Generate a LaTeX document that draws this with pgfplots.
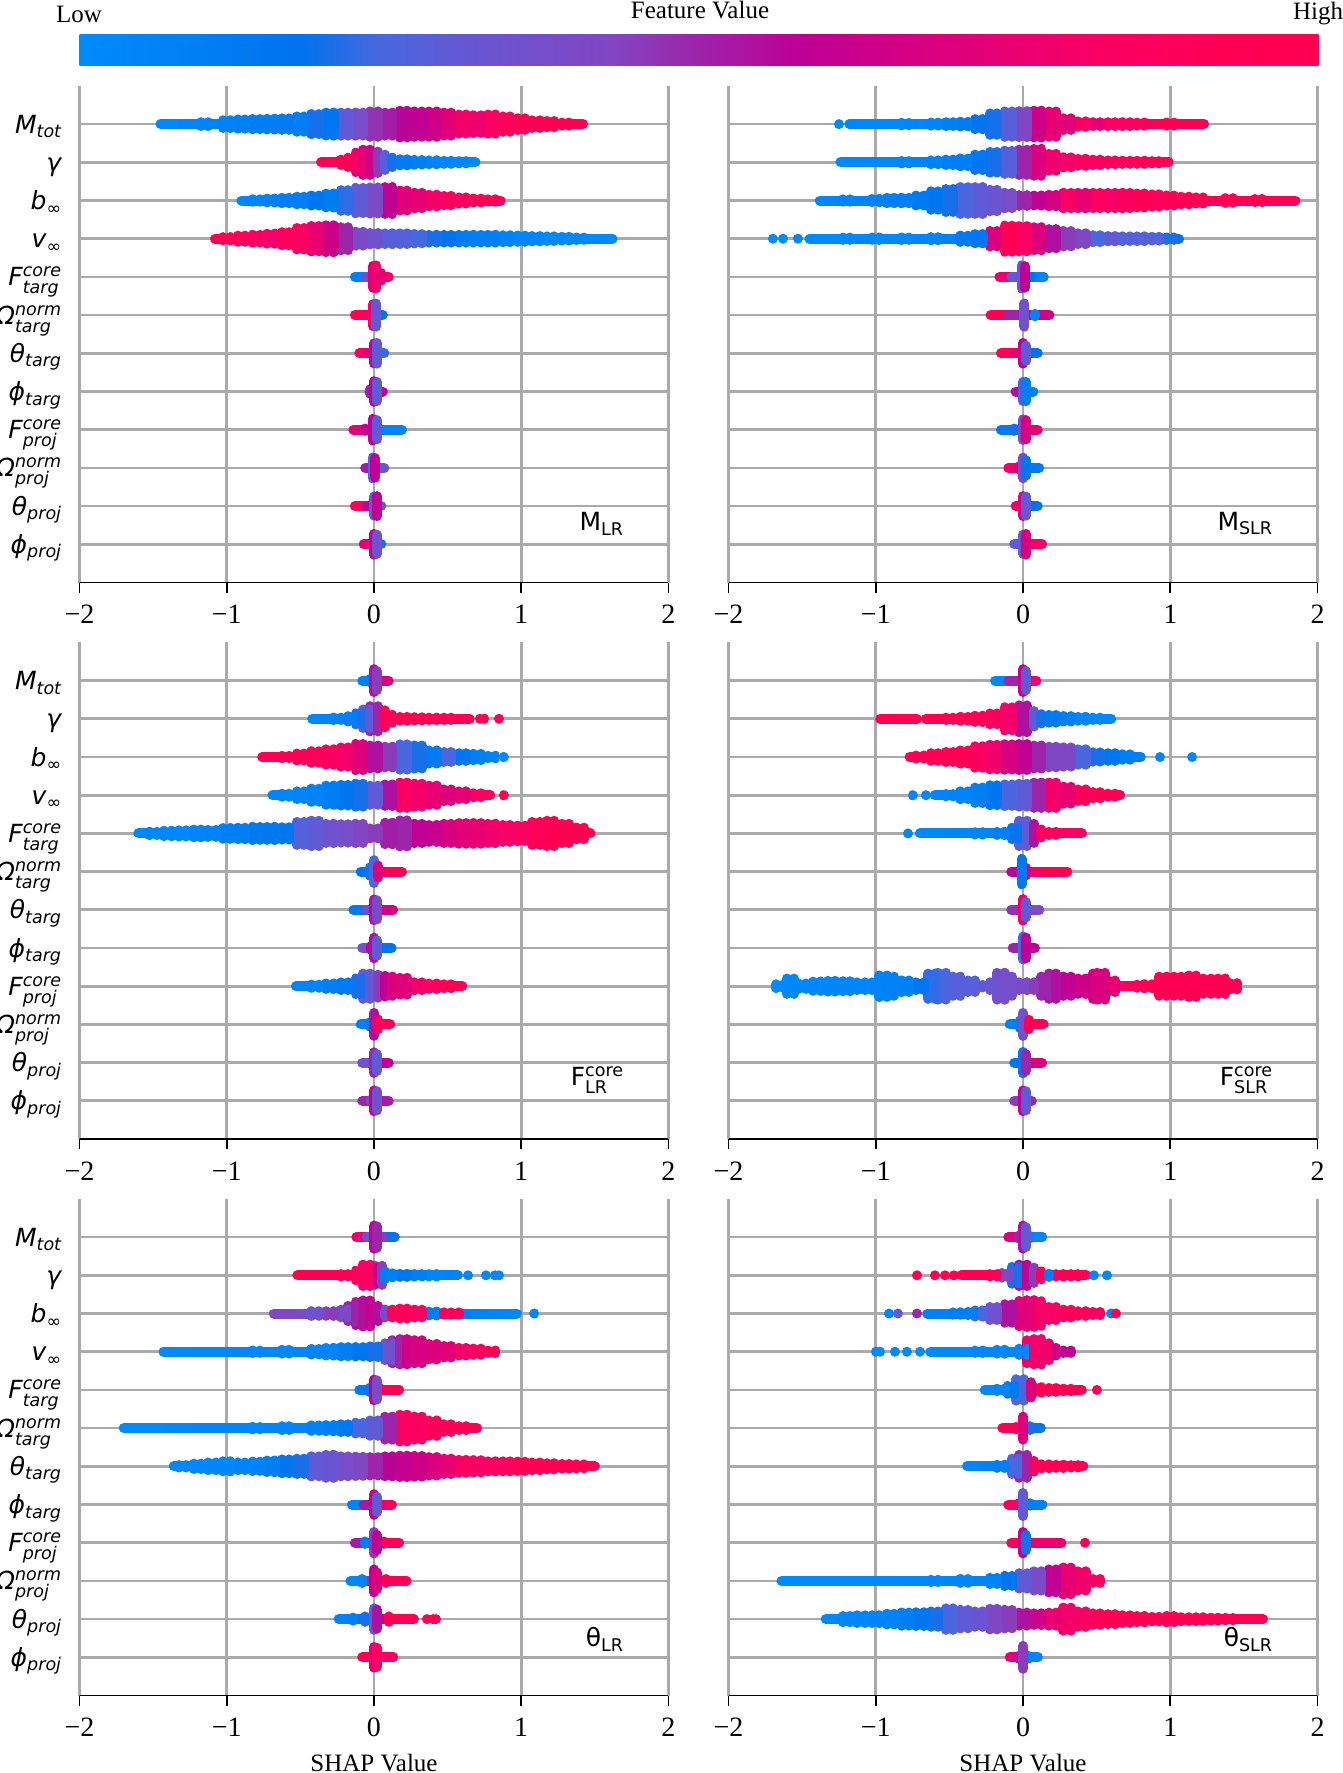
\documentclass[border=0pt]{standalone}
\usepackage{fontspec}
\usepackage{pgfplots}
\pgfplotsset{compat=1.18}
\setmainfont{Liberation Serif}
\newfontfamily\djf{DejaVu Sans}
\newcommand\smf{\fontsize{8.75}{9}\selectfont}
\newcommand\bgf{\djf\fontsize{12.5}{14}\selectfont}
\newcommand\SUB[2]{{\bgf\itshape #1\raisebox{-2.3pt}{\smf #2}}}
\newcommand\SSb[3]{\setbox0\hbox{\smf #2}\setbox2\hbox{\smf #3}#1\rlap{\raisebox{4.5pt}{\smf #2}}\raisebox{-4pt}{\smf #3}\ifdim\wd0>\wd2 \kern\dimexpr\wd0-\wd2\relax\fi}
\newcommand\SSi[3]{{\bgf\itshape\SSb{#1}{#2}{#3}}}
\newcommand\SSU[3]{{\bgf\SSb{#1}{#2}{#3}}}
\newcommand\SUU[2]{{\bgf #1\raisebox{-2.3pt}{\smf #2}}}
\definecolor{c0}{RGB}{0,139,251}\definecolor{c1}{RGB}{0,115,238}\definecolor{c2}{RGB}{70,105,225}
\definecolor{c3}{RGB}{105,85,210}\definecolor{c4}{RGB}{130,70,195}\definecolor{c5}{RGB}{150,45,175}
\definecolor{c6}{RGB}{190,0,150}\definecolor{c7}{RGB}{225,0,120}\definecolor{c8}{RGB}{250,0,100}
\definecolor{c9}{RGB}{255,0,85}\definecolor{c10}{RGB}{255,0,81}
\pgfdeclarehorizontalshading{rb}{100bp}{color(0bp)=(c0);color(25bp)=(c0);color(34bp)=(c1);color(37bp)=(c2);color(41bp)=(c3);color(46.5bp)=(c4);color(49bp)=(c5);color(54bp)=(c6);color(61bp)=(c7);color(66bp)=(c8);color(71bp)=(c9);color(75bp)=(c10);color(100bp)=(c10)}
\definecolor{gl}{RGB}{170,170,170}
\pgfplotsset{
 colormap={rb}{rgb255(0)=(0,139,251);rgb255(18)=(0,115,238);rgb255(24)=(70,105,225);rgb255(32)=(105,85,210);rgb255(43)=(130,70,195);rgb255(48)=(150,45,175);rgb255(59)=(190,0,150);rgb255(72)=(225,0,120);rgb255(83)=(250,0,100);rgb255(93)=(255,0,85);rgb255(100)=(255,0,81)},
 rib/.style={mesh,line width=5pt,line cap=round,point meta=\thisrow{c},forget plot},
 strip/.style={quiver={u=0,v=\thisrow{w}*2+.002,colored=mapped color,every arrow/.append style={-,line width=5pt,line cap=round}},point meta=\thisrow{c},forget plot},
 pan/.style={scale only axis,width=294.5pt,height=248.3pt,anchor=south west,xmin=-2,xmax=2,ymin=-1,ymax=12,colormap name=rb,point meta min=0,point meta max=1,
  xtick={-2,-1,0,1,2},xticklabels={−2,−1,0,1,2},ytick={0,...,11},
  axis lines*=left,y axis line style={draw=none},ytick style={draw=none},x axis line style={-,black,line width=.9pt},
  xtick style={black,line width=.9pt},major tick length=5pt,tick align=outside,
  xmajorgrids,ymajorgrids,grid style={gl,line width=1.35pt},
  xticklabel style={font=\fontsize{14}{16}\selectfont,anchor=base,yshift=-15.5pt},
  yticklabel style={anchor=base east,yshift=-4.5pt,inner sep=0pt,xshift=-4pt},
  xlabel style={font=\fontsize{12.5}{14}\selectfont,at={(axis description cs:0.5,0)},anchor=center,yshift=-33.5pt}},
 lft/.style={yticklabels={\SUB{\char"03D5}{proj},\SUB{\char"03B8}{proj},\SSi{\char"03A9}{norm}{proj},\SSi{F}{core}{proj},\SUB{\char"03D5}{targ},\SUB{\char"03B8}{targ},\SSi{\char"03A9}{norm}{targ},\SSi{F}{core}{targ},\SUB{v}{\char"221E},\SUB{b}{\char"221E},\SUB{\char"03B3}{},\SUB{M}{tot}}},
 rgt/.style={yticklabels={}}
}
\newcommand\sw[2]{%
\addplot[rib] table[row sep=\\,x=x,y expr=#1]{x w c\\#2};%
\addplot[strip,restrict expr to domain={\thisrow{w}}{.025:10}] table[row sep=\\,x expr=\thisrow{x}-.025,y expr=#1-\thisrow{w}-.001]{x w c\\#2};%
\addplot[strip,restrict expr to domain={\thisrow{w}}{.025:10}] table[row sep=\\,x expr=\thisrow{x}+.025,y expr=#1-\thisrow{w}-.001]{x w c\\#2};}
\newcommand\sm[2]{%
\addplot[rib] table[row sep=\\,x=x,y expr=#1]{x w c\\#2};%
\addplot[strip,restrict expr to domain={\thisrow{w}}{.025:10}] table[row sep=\\,x=x,y expr=#1-\thisrow{w}-.001]{x w c\\#2};}
\newcommand\dt[2]{\addplot[strip] table[row sep=\\,x=x,y expr=#1-\thisrow{w}-.001]{x w c\\#2};}
\newcommand\grd{\draw[gl,line width=.8pt](axis cs:-2,-1)--(axis cs:-2,12);\draw[gl,line width=.8pt](axis cs:2,-1)--(axis cs:2,12);}
\begin{document}
\begin{tikzpicture}[x=.5pt,y=-.5pt]
\path[use as bounding box](0,0)rectangle(1343,1773);
\shade[shading=rb](79.5,34)rectangle(1318.5,65);
\node[font=\fontsize{12.5}{14}\selectfont] at (79,14){Low};
\node[font=\fontsize{12.5}{14}\selectfont] at (700,10){Feature Value};
\node[font=\fontsize{12.5}{14}\selectfont] at (1318,14){High};
% ---------- M_LR
\begin{axis}[pan,lft,at={(39.75pt,-291.25pt)}]
\sw{11}{-1.45 0 .02\\-1.3 .02 .03\\-1.15 .05 .05\\-1 .1 .07\\-.9 .12 .08\\-.8 .13 .1\\-.7 .14 .09\\-.6 .15 .12\\-.5 .2 .1\\-.4 .26 .2\\-.3 .3 .15\\-.2 .3 .3\\-.1 .3 .38\\0 .33 .47\\.1 .3 .52\\.2 .35 .58\\.3 .33 .6\\.4 .33 .65\\.5 .3 .72\\.6 .25 .8\\.7 .23 .78\\.8 .25 .85\\.9 .2 .9\\1 .15 .95\\1.1 .1 .97\\1.2 .08 .98\\1.3 .04 .99\\1.42 0 .99\\}
\sw{10}{-.36 0 .98\\-.3 .02 .97\\-.2 .07 .92\\-.15 .12 .85\\-.1 .25 .75\\-.05 .33 .65\\0 .28 .45\\.05 .2 .28\\.1 .12 .2\\.2 .08 .12\\.3 .06 .08\\.4 .05 .05\\.5 .04 .03\\.6 .03 .02\\.69 .02 .01\\}
\sw{9}{-.9 0 .02\\-.8 .03 .05\\-.7 .05 .08\\-.6 .07 .1\\-.5 .1 .1\\-.4 .13 .15\\-.3 .18 .12\\-.2 .27 .22\\-.1 .33 .3\\0 .34 .4\\.1 .35 .6\\.2 .26 .72\\.3 .2 .75\\.4 .15 .8\\.5 .12 .88\\.6 .08 .85\\.7 .05 .92\\.8 .03 .95\\.86 0 .97\\}
\sw{8}{-1.08 0 .98\\-1 .04 .95\\-.9 .08 .9\\-.8 .1 .85\\-.7 .13 .8\\-.6 .17 .9\\-.5 .28 .85\\-.4 .33 .75\\-.3 .35 .65\\-.2 .3 .5\\-.1 .18 .4\\0 .15 .35\\.1 .14 .28\\.2 .14 .27\\.3 .12 .24\\.4 .1 .2\\.5 .1 .17\\.6 .1 .12\\.7 .1 .08\\.8 .1 .1\\.9 .09 .06\\1 .08 .04\\1.1 .07 .03\\1.2 .06 .03\\1.3 .05 .02\\1.4 .03 .02\\1.5 .02 .01\\1.62 0 .01\\}
\sm{7}{-.13 0 .03\\-.05 .02 .1\\-.01 .28 .7\\.015 .3 .8\\.05 .1 .75\\.1 0 .93\\}
\sm{6}{-.13 0 .95\\-.06 .02 .9\\-.01 .28 .8\\.015 .3 .3\\.06 0 .05\\}
\sm{5}{-.1 0 .9\\-.04 .02 .85\\0 .26 .6\\.02 .27 .3\\.07 0 .15\\}
\sm{4}{-.03 .05 .5\\0 .27 .6\\.02 .25 .3\\.06 0 .9\\}
\sm{3}{-.14 0 .9\\-.06 .03 .6\\-.01 .28 .6\\.02 .25 .3\\.08 .02 .05\\.19 0 .02\\}
\sm{2}{-.06 0 .8\\-.01 .27 .25\\.01 .25 .6\\.07 0 .05\\}
\sm{1}{-.13 0 .95\\-.05 .02 .85\\0 .25 .3\\.02 .26 .6\\.05 0 .05\\}
\sm{0}{-.07 0 .9\\0 .27 .6\\.02 .25 .35\\.05 0 .05\\}
\grd
\node[anchor=east] at (axis cs:1.74,.54){\SUU{M}{LR}};
\end{axis}
% ---------- M_SLR
\begin{axis}[pan,rgt,at={(364.25pt,-291.25pt)}]
\dt{11}{-1.25 0 .01\\}
\sw{11}{-1.18 0 .02\\-1 .02 .02\\-.8 .03 .03\\-.6 .04 .05\\-.5 .05 .1\\-.4 .06 .12\\-.3 .13 .18\\-.2 .28 .2\\-.1 .33 .28\\0 .34 .42\\.1 .35 .65\\.2 .33 .75\\.3 .15 .72\\.4 .07 .85\\.5 .05 .75\\.6 .05 .85\\.7 .05 .85\\.8 .04 .88\\1 .04 .95\\1.15 .02 .97\\1.23 0 .98\\}
\sw{10}{-1.24 0 .01\\-1 .02 .02\\-.8 .03 .04\\-.6 .05 .06\\-.5 .07 .1\\-.4 .1 .1\\-.3 .2 .15\\-.2 .27 .2\\-.1 .3 .28\\0 .33 .5\\.1 .35 .7\\.2 .22 .78\\.3 .13 .8\\.4 .09 .85\\.5 .07 .85\\.6 .05 .88\\.7 .04 .9\\.8 .04 .95\\.9 .03 .95\\.99 0 .98\\}
\sw{9}{-1.38 0 .03\\-1.2 .03 .05\\-1 .04 .07\\-.9 .07 .1\\-.8 .07 .1\\-.7 .13 .13\\-.6 .24 .15\\-.5 .3 .2\\-.4 .35 .25\\-.3 .35 .3\\-.2 .28 .33\\-.1 .2 .38\\0 .14 .5\\.1 .13 .6\\.2 .15 .68\\.3 .2 .82\\.4 .2 .75\\.5 .2 .88\\.6 .2 .82\\.7 .2 .88\\.8 .18 .92\\.9 .16 .9\\1 .13 .95\\1.1 .1 .92\\1.2 .08 .95\\1.4 .06 .97\\1.6 .04 .96\\1.75 .02 .98\\1.85 0 .98\\}
\dt{8}{-1.7 0 .01\\-1.63 0 .01\\-1.53 0 .02\\}
\sw{8}{-1.45 .01 .01\\-1.2 .03 .02\\-1 .03 .02\\-.8 .03 .03\\-.6 .04 .04\\-.4 .08 .12\\-.3 .12 .15\\-.2 .2 .7\\-.1 .34 .95\\0 .33 .85\\.1 .3 .7\\.2 .25 .55\\.3 .2 .45\\.4 .14 .42\\.5 .09 .25\\.6 .07 .3\\.7 .06 .27\\.8 .06 .28\\.9 .05 .27\\1 .03 .2\\1.06 .01 .17\\}
\sm{7}{-.16 0 .95\\-.08 .02 .6\\.14 0 .02\\.06 .02 .05\\-.01 .3 .3\\.015 .28 .6\\}
\sm{6}{-.22 0 .97\\-.1 .02 .95\\.08 .03 .05\\.01 .3 .35\\.18 0 .97\\}
\sm{5}{-.15 0 .95\\-.05 .02 .85\\0 .27 .6\\.02 .2 .3\\.1 0 .05\\}
\sm{4}{-.05 0 .8\\0 .25 .3\\.02 .25 .1\\.07 0 .03\\}
\sm{3}{-.15 0 .05\\-.06 .03 .2\\0 .27 .4\\.02 .25 .7\\.1 0 .8\\}
\sm{2}{-.1 0 .9\\-.03 .03 .7\\0 .27 .4\\.02 .2 .15\\.11 0 .1\\}
\sm{1}{-.05 0 .85\\0 .26 .7\\.02 .25 .3\\.1 0 .05\\}
\sm{0}{-.06 0 .3\\0 .25 .3\\.02 .27 .7\\.13 0 .96\\}
\grd
\node[anchor=east] at (axis cs:1.74,.54){\SUU{M}{SLR}};
\end{axis}
% ---------- F_LR
\begin{axis}[pan,lft,at={(39.75pt,-569.5pt)}]
\sm{11}{-.08 0 .03\\-.03 .03 .1\\0 .3 .55\\.02 .25 .45\\.1 0 .95\\}
\sw{10}{-.42 0 .03\\-.35 .02 .04\\-.25 .03 .07\\-.15 .07 .1\\-.1 .14 .2\\-.05 .24 .3\\0 .33 .5\\.05 .22 .9\\.1 .1 .92\\.2 .05 .95\\.3 .04 .95\\.4 .03 .97\\.5 .03 .96\\.6 .02 .97\\.65 0 .97\\}
\dt{10}{.72 0 .97\\.75 0 .98\\.85 0 .98\\}
\sw{9}{-.76 0 .98\\-.7 .01 .97\\-.6 .03 .96\\-.5 .09 .92\\-.4 .15 .9\\-.3 .2 .85\\-.2 .25 .8\\-.1 .34 .7\\0 .3 .55\\.1 .27 .45\\.2 .33 .25\\.3 .3 .2\\.4 .17 .12\\.5 .13 .25\\.6 .1 .15\\.7 .08 .08\\.8 .03 .05\\}
\dt{9}{.88 0 .03\\}
\sw{8}{-.69 0 .03\\-.6 .04 .04\\-.5 .1 .05\\-.4 .17 .06\\-.3 .25 .1\\-.2 .27 .15\\-.1 .3 .2\\0 .25 .3\\.1 .28 .55\\.2 .33 .85\\.3 .3 .8\\.4 .25 .75\\.5 .15 .7\\.6 .1 .75\\.7 .05 .85\\.79 0 .95\\}
\dt{8}{.88 0 .96\\}
\sw{7}{-1.6 0 .02\\-1.5 .04 .03\\-1.4 .07 .02\\-1.3 .08 .03\\-1.2 .1 .05\\-1.1 .09 .06\\-1 .14 .08\\-.9 .15 .1\\-.8 .17 .13\\-.7 .17 .14\\-.6 .16 .16\\-.5 .3 .27\\-.4 .33 .3\\-.3 .25 .35\\-.2 .24 .38\\-.1 .25 .43\\0 .13 .45\\.1 .28 .52\\.2 .34 .5\\.3 .25 .6\\.4 .22 .62\\.5 .25 .68\\.6 .27 .72\\.7 .27 .75\\.8 .25 .78\\.9 .22 .82\\1 .2 .85\\1.1 .3 .92\\1.2 .33 .98\\1.3 .25 .98\\1.4 .15 .99\\1.47 .01 .99\\}
\sm{6}{-.09 0 .15\\-.03 .1 .2\\0 .3 .25\\.03 .15 .7\\.1 .02 .95\\.14 0 .97\\.19 0 .96\\}
\sm{5}{-.14 0 .05\\-.05 .02 .2\\0 .27 .55\\.02 .25 .4\\.13 0 .95\\}
\sm{4}{-.08 0 .1\\-.02 .05 .6\\0 .27 .55\\.02 .2 .3\\.12 0 .05\\}
\sw{3}{-.53 0 .04\\-.4 .04 .05\\-.3 .07 .1\\-.2 .1 .12\\-.1 .2 .2\\-.05 .33 .3\\0 .3 .45\\.05 .27 .6\\.1 .25 .7\\.2 .22 .72\\.3 .1 .8\\.4 .07 .88\\.5 .05 .94\\.6 0 .95\\}
\sm{2}{-.09 0 .05\\-.03 .05 .1\\0 .3 .55\\.03 .12 .9\\.11 0 .95\\}
\sm{1}{-.08 0 .2\\0 .27 .5\\.02 .22 .3\\.1 0 .93\\}
\sm{0}{-.08 0 .6\\-.02 .03 .4\\0 .27 .6\\.02 .25 .35\\.1 0 .7\\}
\grd
\node[anchor=east] at (axis cs:1.74,.54){\SSU{F}{core}{LR}};
\end{axis}
% ---------- F_SLR
\begin{axis}[pan,rgt,at={(364.25pt,-569.5pt)}]
\sm{11}{-.19 0 .02\\-.1 .02 .03\\.09 0 .97\\0 .3 .65\\.02 .25 .3\\}
\sm{10}{-.97 0 .98\\-.72 0 .98\\}
\sw{10}{-.66 0 .97\\-.5 .03 .97\\-.4 .05 .95\\-.3 .08 .92\\-.2 .14 .88\\-.1 .3 .8\\0 .35 .55\\.05 .2 .3\\.1 .12 .2\\.2 .1 .12\\.3 .07 .08\\.4 .05 .05\\.5 .03 .03\\.6 0 .02\\}
\sw{9}{-.77 0 .98\\-.7 .04 .96\\-.6 .1 .94\\-.5 .13 .93\\-.4 .17 .92\\-.3 .28 .85\\-.2 .32 .78\\-.1 .33 .68\\0 .34 .6\\.1 .3 .5\\.2 .27 .42\\.3 .25 .42\\.4 .2 .25\\.5 .12 .2\\.6 .1 .15\\.7 .07 .1\\.8 .02 .08\\}
\dt{9}{.93 0 .02\\1.15 0 .02\\}
\dt{8}{-.75 0 .02\\-.66 0 .03\\}
\sw{8}{-.6 0 .03\\-.5 .03 .05\\-.4 .1 .06\\-.3 .2 .1\\-.2 .26 .15\\-.1 .28 .25\\0 .3 .3\\.1 .33 .5\\.2 .33 .8\\.3 .22 .75\\.4 .15 .9\\.5 .08 .95\\.6 .04 .97\\.66 0 .98\\}
\dt{7}{-.78 0 .02\\}
\sw{7}{-.7 0 .02\\-.5 .02 .03\\-.3 .03 .05\\-.15 .04 .08\\-.05 .15 .15\\.0 .33 .3\\.05 .25 .55\\.1 .1 .85\\.2 .04 .9\\.3 .02 .9\\.4 0 .8\\}
\sm{6}{-.08 0 .2\\.3 0 .96\\.1 .02 .96\\.02 .1 .7\\-.01 .33 .15\\}
\sm{5}{-.08 0 .9\\.11 0 .03\\0 .28 .8\\.02 .2 .3\\}
\sm{4}{-.07 0 .05\\.08 0 .95\\0 .3 .25\\.02 .27 .6\\}
\sw{3}{-1.65 .05 .01\\-1.58 .2 .02\\-1.5 .07 .03\\-1.4 .12 .03\\-1.3 .14 .03\\-1.2 .13 .04\\-1.1 .1 .04\\-1 .1 .05\\-.95 .28 .06\\-.9 .25 .07\\-.8 .15 .08\\-.75 .02 .1\\-.7 .1 .15\\-.62 .33 .22\\-.55 .35 .25\\-.45 .25 .28\\-.35 .15 .28\\-.3 .03 .3\\-.2 .1 .33\\-.15 .35 .37\\-.1 .25 .37\\0 .1 .4\\.05 .1 .45\\.15 .25 .5\\.2 .33 .55\\.3 .25 .6\\.4 .2 .65\\.5 .33 .68\\.53 .35 .7\\.6 .15 .75\\.7 .02 .85\\.8 .04 .9\\.85 .05 .92\\.95 .25 .95\\1.05 .25 .93\\1.15 .28 .95\\1.25 .2 .97\\1.35 .2 .98\\1.43 .08 .99\\}
\sm{2}{-.09 0 .05\\-.02 .1 .1\\0 .3 .35\\.04 .12 .92\\.14 0 .97\\}
\sm{1}{-.06 0 .1\\0 .28 .2\\.02 .22 .5\\.13 0 .96\\}
\sm{0}{-.06 0 .3\\0 .27 .6\\.02 .25 .3\\.06 0 .7\\}
\grd
\node[anchor=east] at (axis cs:1.74,.54){\SSU{F}{core}{SLR}};
\end{axis}
% ---------- theta_LR
\begin{axis}[pan,lft,at={(39.75pt,-847.75pt)},xlabel={SHAP Value}]
\sm{11}{-.12 0 .9\\-.05 .02 .6\\.14 0 .05\\.06 .02 .3\\0 .3 .6\\.02 .28 .5\\}
\sw{10}{-.52 0 .98\\-.4 .02 .98\\-.3 .02 .95\\-.2 .03 .92\\-.1 .12 .88\\-.05 .28 .82\\0 .2 .6\\.03 .25 .45\\.05 .1 .1\\.1 .05 .07\\.2 .04 .15\\.3 .03 .1\\.4 .03 .03\\.5 .02 .08\\.57 .02 .03\\}
\dt{10}{.64 0 .02\\.76 0 .02\\.82 0 .02\\.85 0 .03\\}
\sw{9}{-.68 0 .45\\-.6 .01 .4\\-.5 .02 .45\\-.4 .06 .35\\-.3 .06 .45\\-.2 .1 .4\\-.15 .2 .5\\-.1 .3 .55\\-.05 .34 .62\\0 .2 .55\\.05 .08 .4\\.1 .1 .9\\.2 .13 .92\\.3 .1 .85\\.4 .05 .1\\.45 .03 .9\\.55 .03 .95\\.6 .02 .12\\.7 .02 .05\\.8 .01 .04\\.9 .01 .03\\.97 0 .03\\}
\dt{9}{1.09 0 .03\\}
\sw{8}{-1.43 0 .01\\-1.2 .01 .01\\-1 .02 .02\\-.8 .03 .02\\-.6 .05 .03\\-.4 .07 .05\\-.3 .1 .05\\-.2 .12 .1\\-.1 .12 .15\\0 .14 .2\\.1 .22 .35\\.15 .3 .5\\.2 .33 .65\\.3 .3 .68\\.4 .2 .7\\.5 .15 .72\\.6 .1 .8\\.7 .08 .85\\.8 .03 .95\\}
\sm{7}{-.1 0 .03\\-.03 .05 .2\\.17 0 .97\\.05 .03 .95\\0 .27 .6\\.02 .25 .4\\}
\sw{6}{-1.7 0 .01\\-1.4 .01 .01\\-1.2 .02 .02\\-1 .02 .02\\-.8 .03 .03\\-.6 .05 .04\\-.4 .07 .06\\-.3 .08 .1\\-.2 .1 .15\\-.1 .14 .25\\0 .2 .3\\.1 .3 .5\\.2 .35 .85\\.3 .3 .85\\.4 .2 .9\\.5 .1 .9\\.6 .05 .92\\.7 .02 .96\\}
\sw{5}{-1.36 0 .02\\-1.3 .03 .03\\-1.2 .07 .03\\-1.1 .1 .03\\-1 .13 .03\\-.9 .1 .05\\-.8 .12 .06\\-.7 .15 .1\\-.6 .18 .15\\-.5 .2 .2\\-.4 .26 .3\\-.3 .3 .33\\-.2 .26 .38\\-.1 .25 .42\\0 .24 .5\\.1 .26 .58\\.2 .28 .62\\.3 .27 .65\\.4 .24 .7\\.5 .2 .75\\.6 .17 .85\\.7 .16 .82\\.8 .13 .85\\.9 .13 .88\\1 .12 .93\\1.1 .1 .95\\1.2 .08 .97\\1.3 .06 .98\\1.4 .05 .98\\1.5 .02 .99\\}
\sm{4}{-.15 0 .02\\-.07 .02 .1\\.12 0 .95\\.05 .02 .9\\0 .27 .65\\.02 .2 .3\\}
\sm{3}{-.13 0 .95\\-.06 .03 .1\\.17 0 .95\\.07 .03 .9\\0 .28 .45\\.02 .2 .6\\}
\sm{2}{-.16 0 .03\\-.08 .05 .05\\.22 0 .9\\.08 .05 .93\\0 .3 .6\\.02 .22 .7\\}
\sm{1}{-.24 0 .03\\-.14 .04 .08\\-.06 .07 .2\\.27 .02 .97\\.1 .07 .95\\0 .28 .3\\.02 .25 .55\\}
\dt{1}{.36 0 .97\\.4 0 .97\\.42 0 .97\\}
\sm{0}{-.08 0 .95\\.13 0 .95\\0 .27 .7\\.02 .25 .85\\}
\grd
\node[anchor=east] at (axis cs:1.74,.47){\SUU{\char"03B8}{LR}};
\end{axis}
% ---------- theta_SLR
\begin{axis}[pan,rgt,at={(364.25pt,-847.75pt)},xlabel={SHAP Value}]
\sm{11}{-.1 0 .9\\-.03 .03 .5\\.13 0 .02\\.05 .03 .05\\0 .3 .55\\.02 .26 .3\\}
\dt{10}{-.72 0 .98\\-.6 0 .98\\-.53 0 .98\\-.47 0 .98\\}
\sw{10}{-.42 0 .98\\-.3 .02 .98\\-.2 .03 .97\\-.12 .06 .4\\-.05 .22 .2\\0 .28 .6\\.05 .2 .45\\.1 .1 .9\\.15 .04 .1\\.25 .03 .9\\.35 .03 .95\\.43 .02 .9\\}
\dt{10}{.48 0 .02\\.57 0 .02\\}
\dt{9}{-.91 0 .04\\-.85 0 .3\\-.72 0 .5\\}
\sw{9}{-.65 .01 .08\\-.55 .02 .05\\-.45 .03 .1\\-.35 .04 .1\\-.3 .08 .25\\-.2 .17 .35\\-.1 .24 .55\\0 .33 .72\\.05 .35 .75\\.1 .32 .82\\.2 .17 .82\\.3 .1 .9\\.4 .06 .9\\.5 .04 .85\\}
\dt{9}{.6 0 .04\\.63 0 .97\\}
\dt{8}{-1 0 .01\\-.97 0 .01\\-.87 0 .01\\-.79 0 .01\\-.7 0 .01\\}
\sw{8}{-.63 .01 .01\\-.5 .02 .01\\-.3 .03 .02\\-.15 .05 .03\\0 .08 .04\\.05 .3 .8\\.1 .33 .8\\.15 .22 .8\\.2 .1 .65\\.3 .03 .6\\}
\sw{7}{-.26 .02 .02\\-.15 .03 .04\\-.08 .1 .12\\-.02 .28 .25\\.03 .2 .7\\.1 .07 .95\\.2 .05 .97\\.3 .03 .97\\.4 .02 .96\\}
\dt{7}{.5 0 .98\\}
\sm{6}{-.14 0 .96\\-.05 .03 .97\\.12 0 .1\\.05 .05 .2\\0 .3 .7\\}
\sw{5}{-.38 0 .03\\-.25 .02 .05\\-.15 .04 .1\\-.05 .2 .25\\0 .3 .5\\.05 .14 .85\\.15 .05 .93\\.25 .04 .95\\.35 .03 .95\\.41 .01 .97\\}
\sm{4}{-.1 0 .9\\-.03 .03 .85\\.13 0 .05\\.05 .03 .1\\0 .3 .3\\}
\sm{3}{-.08 0 .8\\.1 .02 .96\\.26 .01 .95\\0 .28 .6\\.02 .2 .2\\}
\dt{3}{.42 0 .95\\}
\sw{2}{-1.64 0 .01\\-1.4 .01 .01\\-1.2 .02 .01\\-1 .02 .01\\-.8 .02 .02\\-.6 .03 .02\\-.4 .05 .03\\-.2 .08 .06\\-.1 .13 .15\\0 .2 .3\\.1 .25 .4\\.2 .3 .6\\.3 .35 .75\\.4 .25 .8\\.5 .05 .85\\}
\sw{1}{-1.34 .02 .02\\-1.2 .08 .03\\-1.1 .1 .04\\-1 .1 .05\\-.9 .14 .06\\-.8 .17 .1\\-.7 .18 .15\\-.6 .2 .2\\-.5 .28 .25\\-.4 .24 .3\\-.3 .2 .33\\-.2 .27 .42\\-.1 .24 .45\\0 .17 .55\\.1 .15 .65\\.2 .17 .75\\.3 .3 .8\\.4 .2 .82\\.5 .15 .92\\.6 .13 .93\\.7 .1 .95\\.8 .08 .97\\.9 .06 .97\\1 .08 .98\\1.1 .05 .98\\1.2 .05 .98\\1.3 .04 .99\\1.4 .03 .99\\1.5 .02 .99\\1.63 0 .99\\}
\sm{0}{-.09 0 .9\\-.03 .03 .6\\.1 0 .03\\.04 .03 .05\\0 .3 .45\\}
\grd
\node[anchor=east] at (axis cs:1.74,.47){\SUU{\char"03B8}{SLR}};
\end{axis}
\end{tikzpicture}
\end{document}
